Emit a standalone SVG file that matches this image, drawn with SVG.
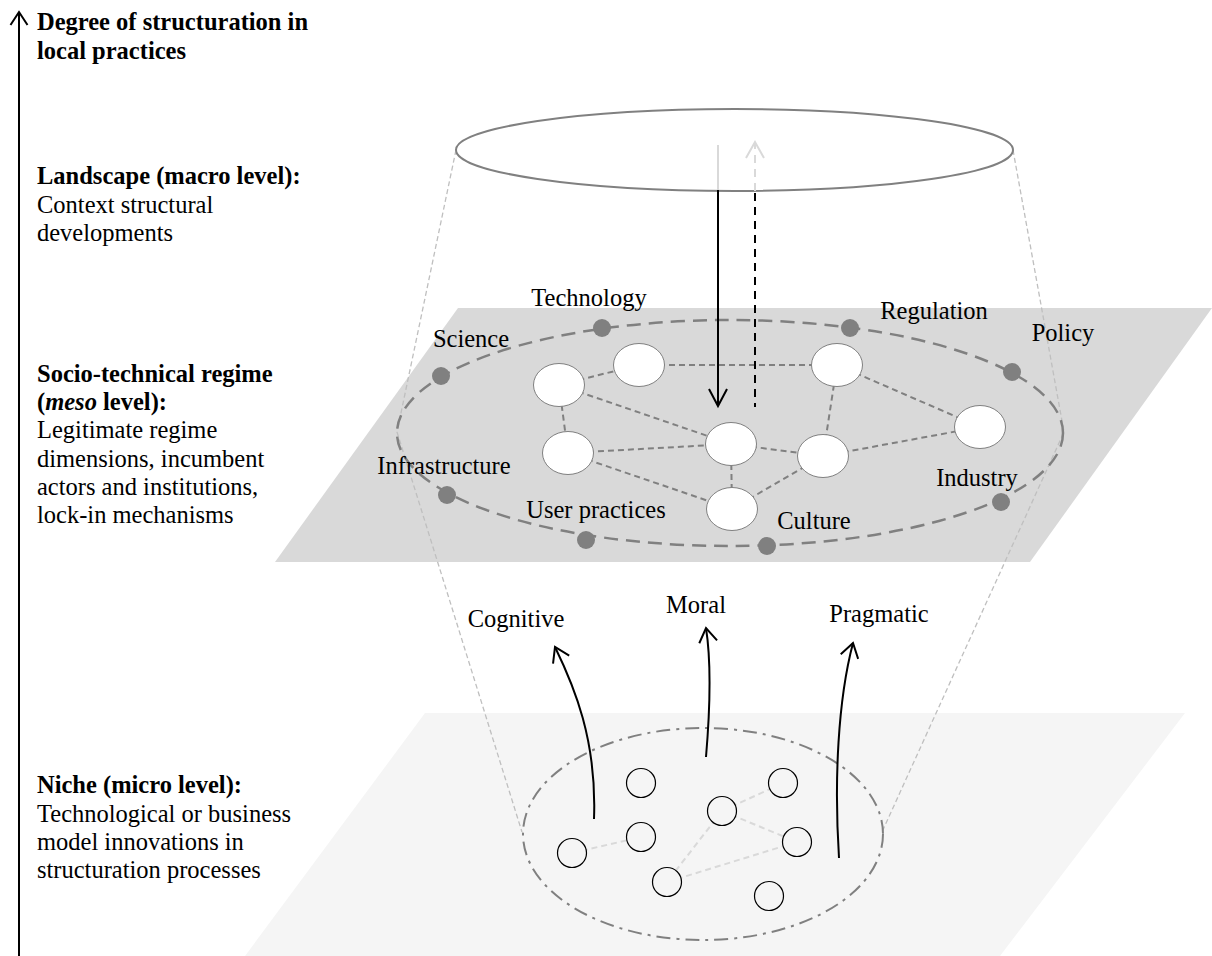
<svg xmlns="http://www.w3.org/2000/svg" width="1212" height="956" viewBox="0 0 1212 956">
<style>
text{font-family:"Liberation Serif","Times New Roman",serif;font-size:24.5px;fill:#000}
.b{font-weight:bold}
.lbl{text-anchor:middle}
.cone{fill:none;stroke:#bfbfbf;stroke-width:1.3;stroke-dasharray:5 3}
.redge{stroke:#808080;stroke-width:2;stroke-dasharray:6 4;fill:none}
.nedge{stroke:#d9d9d9;stroke-width:2;stroke-dasharray:6 4;fill:none}
.rnode{fill:#fff;stroke:#808080;stroke-width:1}
.nnode{fill:#f5f5f5;stroke:#000;stroke-width:1.2}
.dot{fill:#808080}
.arr{fill:none;stroke:#000;stroke-width:2}
</style>
<defs>
<marker id="chevS" markerUnits="userSpaceOnUse" markerWidth="40" markerHeight="40" viewBox="-20 -20 40 40" refX="0" refY="0" orient="auto" overflow="visible">
<path d="M-14,-9 L0,0 L-14,9" fill="none" stroke="#000" stroke-width="2"/>
</marker>
<marker id="chevL" markerUnits="userSpaceOnUse" markerWidth="40" markerHeight="40" viewBox="-20 -20 40 40" refX="0" refY="0" orient="auto" overflow="visible">
<path d="M-17,-9 L0,0 L-17,9" fill="none" stroke="#000" stroke-width="2"/>
</marker>
<marker id="chevG" markerUnits="userSpaceOnUse" markerWidth="40" markerHeight="40" viewBox="-20 -20 40 40" refX="0" refY="0" orient="auto" overflow="visible">
<path d="M-16,-9 L0,0 L-16,9" fill="none" stroke="#d9d9d9" stroke-width="2"/>
</marker>
<marker id="chevA" markerUnits="userSpaceOnUse" markerWidth="40" markerHeight="40" viewBox="-20 -20 40 40" refX="0" refY="0" orient="auto" overflow="visible">
<path d="M-13,-8.5 L0,0 L-13,8.5" fill="none" stroke="#000" stroke-width="2"/>
</marker>
</defs>

<!-- planes -->
<g id="niche-plane"><polygon points="425,713 1185,713 1000,956 245,956" fill="#f5f5f5"/></g>
<g id="regime-plane"><polygon points="458,308 1212,308 1030,562 275,562" fill="#d9d9d9"/></g>

<!-- cone outline -->
<g id="cone">
<polyline class="cone" points="456,150 397,432 522,832"/>
<polyline class="cone" points="1013,150 1064,432 882,832"/>
</g>

<!-- landscape ellipse -->
<g id="landscape"><ellipse cx="734.5" cy="150" rx="278.5" ry="41" fill="#fff" stroke="#808080" stroke-width="2"/></g>

<!-- regime ring -->
<g id="regime-ring"><ellipse cx="730" cy="433" rx="333" ry="113" fill="none" stroke="#808080" stroke-width="2.5" stroke-dasharray="14 8"/></g>

<!-- niche ring -->
<g id="niche-ring"><ellipse cx="703" cy="834" rx="180" ry="106" fill="none" stroke="#808080" stroke-width="2" stroke-dasharray="14 6 3 6"/></g>

<!-- connectors -->
<g id="connectors">
<line class="redge" x1="559" y1="385" x2="639" y2="365"/>
<line class="redge" x1="639" y1="365" x2="837" y2="365"/>
<line class="redge" x1="559" y1="385" x2="568" y2="453"/>
<line class="redge" x1="559" y1="385" x2="731" y2="444"/>
<line class="redge" x1="568" y1="453" x2="731" y2="444"/>
<line class="redge" x1="568" y1="453" x2="732" y2="509"/>
<line class="redge" x1="731" y1="444" x2="732" y2="509"/>
<line class="redge" x1="731" y1="444" x2="823" y2="456"/>
<line class="redge" x1="823" y1="456" x2="732" y2="509"/>
<line class="redge" x1="837" y1="365" x2="823" y2="456"/>
<line class="redge" x1="837" y1="365" x2="980" y2="427"/>
<line class="redge" x1="823" y1="456" x2="980" y2="427"/>

<line class="nedge" x1="572" y1="853" x2="641" y2="837"/>
<line class="nedge" x1="722" y1="811" x2="783" y2="783"/>
<line class="nedge" x1="722" y1="811" x2="797" y2="842"/>
<line class="nedge" x1="722" y1="811" x2="667" y2="882"/>
<line class="nedge" x1="667" y1="882" x2="797" y2="842"/>

<!-- landscape to regime arrows -->
<line x1="718" y1="145" x2="718" y2="190" stroke="#d9d9d9" stroke-width="2"/>
<line x1="718" y1="190" x2="718" y2="406" class="arr" marker-end="url(#chevL)"/>
<line x1="755" y1="191" x2="755" y2="142" stroke="#d9d9d9" stroke-width="2" stroke-dasharray="8 6" marker-end="url(#chevG)"/>
<line x1="755" y1="193" x2="755" y2="407" stroke="#000" stroke-width="2" stroke-dasharray="8 6"/>

<!-- niche to regime arrows -->
<path class="arr" d="M594,819 C597,740 574,686 555,647" marker-end="url(#chevS)"/>
<path class="arr" d="M706,757 C710,710 711,660 706,628" marker-end="url(#chevS)"/>
<path class="arr" d="M839,858 C834,780 838,700 853,643" marker-end="url(#chevS)"/>

<!-- axis -->
<line x1="19" y1="956" x2="19" y2="12" class="arr" marker-end="url(#chevA)"/>
</g>

<!-- regime nodes -->
<g id="rn1"><ellipse class="rnode" cx="559" cy="385" rx="25.5" ry="21.5"/></g>
<g id="rn2"><ellipse class="rnode" cx="639" cy="365" rx="25.5" ry="21.5"/></g>
<g id="rn3"><ellipse class="rnode" cx="837" cy="365" rx="25.5" ry="21.5"/></g>
<g id="rn4"><ellipse class="rnode" cx="980" cy="427" rx="25.5" ry="21.5"/></g>
<g id="rn5"><ellipse class="rnode" cx="568" cy="453" rx="25.5" ry="21.5"/></g>
<g id="rn6"><ellipse class="rnode" cx="731" cy="444" rx="25.5" ry="21.5"/></g>
<g id="rn7"><ellipse class="rnode" cx="823" cy="456" rx="25.5" ry="21.5"/></g>
<g id="rn8"><ellipse class="rnode" cx="732" cy="509" rx="25.5" ry="21.5"/></g>

<!-- regime dimension dots and labels -->
<g id="science"><circle class="dot" cx="441" cy="376" r="9"/><text class="lbl" x="471" y="347">Science</text></g>
<g id="technology"><circle class="dot" cx="602" cy="328" r="9"/><text class="lbl" x="589" y="306">Technology</text></g>
<g id="regulation"><circle class="dot" cx="850" cy="328" r="9"/><text class="lbl" x="934" y="319">Regulation</text></g>
<g id="policy"><circle class="dot" cx="1012" cy="372" r="9"/><text class="lbl" x="1063" y="341">Policy</text></g>
<g id="infrastructure"><circle class="dot" cx="447" cy="495" r="9"/><text class="lbl" x="444" y="474">Infrastructure</text></g>
<g id="user-practices"><circle class="dot" cx="586" cy="540" r="9"/><text class="lbl" x="596" y="518">User practices</text></g>
<g id="culture"><circle class="dot" cx="767" cy="546" r="9"/><text class="lbl" x="814" y="529">Culture</text></g>
<g id="industry"><circle class="dot" cx="1001" cy="502" r="9"/><text class="lbl" x="977" y="486">Industry</text></g>

<!-- niche nodes -->
<g id="nn1"><circle class="nnode" cx="641" cy="783" r="14.5"/></g>
<g id="nn2"><circle class="nnode" cx="783" cy="783" r="14.5"/></g>
<g id="nn3"><circle class="nnode" cx="722" cy="811" r="14.5"/></g>
<g id="nn4"><circle class="nnode" cx="641" cy="837" r="14.5"/></g>
<g id="nn5"><circle class="nnode" cx="797" cy="842" r="14.5"/></g>
<g id="nn6"><circle class="nnode" cx="572" cy="853" r="14.5"/></g>
<g id="nn7"><circle class="nnode" cx="667" cy="882" r="14.5"/></g>
<g id="nn8"><circle class="nnode" cx="769" cy="896" r="14.5"/></g>

<!-- legitimacy labels -->
<g id="cognitive"><text class="lbl" x="516" y="627">Cognitive</text></g>
<g id="moral"><text class="lbl" x="696" y="613">Moral</text></g>
<g id="pragmatic"><text class="lbl" x="879" y="622">Pragmatic</text></g>

<!-- left side texts -->
<g id="axis-label">
<text class="b" x="37" y="30">Degree of structuration in</text>
<text class="b" x="37" y="59">local practices</text>
</g>
<g id="landscape-text">
<text class="b" x="37" y="184">Landscape (macro level):</text>
<text x="37" y="213">Context structural</text>
<text x="37" y="241">developments</text>
</g>
<g id="regime-text">
<text class="b" x="37" y="382">Socio-technical regime</text>
<text class="b" x="37" y="410">(<tspan font-style="italic">meso</tspan> level):</text>
<text x="37" y="438">Legitimate regime</text>
<text x="37" y="467">dimensions, incumbent</text>
<text x="37" y="495">actors and institutions,</text>
<text x="37" y="523">lock-in mechanisms</text>
</g>
<g id="niche-text">
<text class="b" x="37" y="793">Niche (micro level):</text>
<text x="37" y="822">Technological or business</text>
<text x="37" y="850">model innovations in</text>
<text x="37" y="878">structuration processes</text>
</g>
</svg>
